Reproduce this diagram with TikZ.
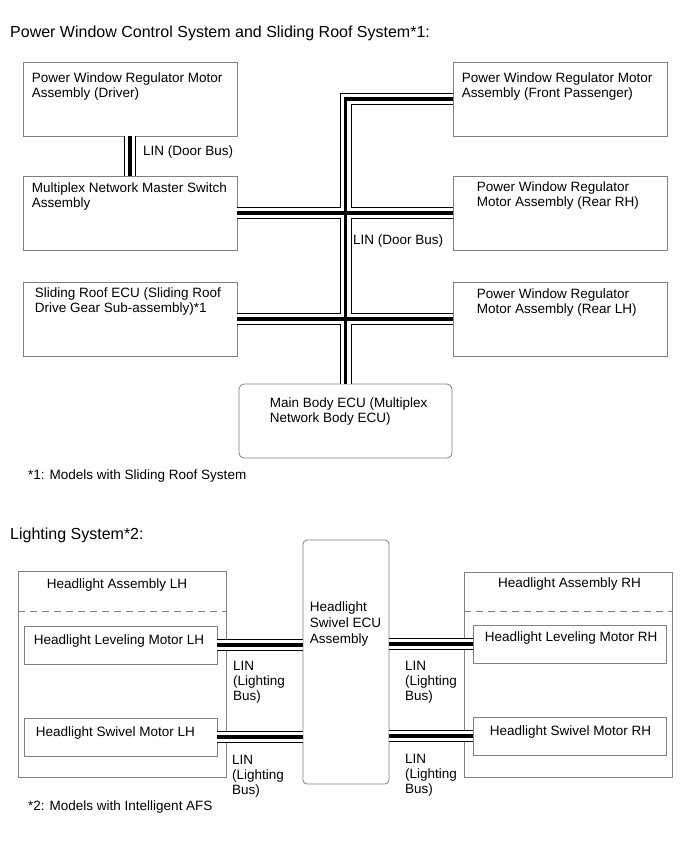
\documentclass[tikz,border=0pt]{standalone}
\usepackage{fontspec}
\setmainfont{Liberation Sans}
\usetikzlibrary{positioning,calc}
\definecolor{boxgray}{RGB}{128,128,128}
\newcommand{\boxfont}{\fontsize{13.5}{15}\selectfont}
\newcommand{\headfont}{\fontsize{16}{18}\selectfont}

\begin{document}
\begin{tikzpicture}[x=1pt, y=-1pt,
    unitbox/.style={rectangle, draw=boxgray, line width=0.8pt, inner sep=0pt,
                    minimum width=214pt, minimum height=74pt},
    ecubox/.style={unitbox, rounded corners=5pt},
    boxtxt/.style={inner sep=0pt, anchor=north west, align=left, font=\boxfont},
    bustxt/.style={inner sep=0pt, align=left, font=\boxfont},
    headtxt/.style={inner sep=0pt, anchor=west, font=\headfont},
    sepline/.style={draw=boxgray, line width=0.8pt, dash pattern=on 7pt off 5pt},
    bus/.style={line width=3.8pt, preaction={draw, black, line width=12pt},
                preaction={draw, white, line width=10pt}}
  ]
    \useasboundingbox (0,0) rectangle (691,854);

    % Power window / sliding roof
    \node[headtxt] (ttl1) at (10,33) {Power Window Control System and Sliding Roof System*1:};

    \node[unitbox] (drv) at (130,99)  {};
    \node[unitbox] (msw) at (130,213) {};
    \node[unitbox] (srf) at (130,319) {};
    \node[unitbox] (fps) at (560,99)  {};
    \node[unitbox] (rrh) at (560,213) {};
    \node[unitbox] (rlh) at (560,319) {};
    \node[ecubox, minimum width=213pt] (mbe) at (345.5,421) {};

    \node[boxtxt] (drvt) at ($(drv.north west)+(9,11)$) {Power Window Regulator Motor\\Assembly (Driver)};
    \node[boxtxt] (mswt) at ($(msw.north west)+(9,7)$) {Multiplex Network Master Switch\\Assembly};
    \node[boxtxt] (srft) at ($(srf.north west)+(12,6)$) {Sliding Roof ECU (Sliding Roof\\Drive Gear Sub-assembly)*1};
    \node[boxtxt] (fpst) at ($(fps.north west)+(9,11)$) {Power Window Regulator Motor\\Assembly (Front Passenger)};
    \node[boxtxt] (rrht) at ($(rrh.north west)+(24,6)$) {Power Window Regulator\\Motor Assembly (Rear RH)};
    \node[boxtxt] (rlht) at ($(rlh.north west)+(24,7)$) {Power Window Regulator\\Motor Assembly (Rear LH)};
    \node[boxtxt] (mbet) at ($(mbe.north west)+(31,14)$) {Main Body ECU (Multiplex\\Network Body ECU)};

    \draw[bus] (drv.south) -- (msw.north);
    \draw[bus] (fps.west) -| (mbe.north) (msw.east) -- (rrh.west) (srf.east) -- (rlh.west);

    \node[bustxt, anchor=west] (dbus1) at (143,152) {LIN (Door Bus)};
    \node[bustxt, anchor=west] (dbus2) at (353,241) {LIN (Door Bus)};
    \node[bustxt, anchor=west] (fn1) at (28,476) {*1: Models with Sliding Roof System};

    % Lighting
    \node[headtxt] (ttl2) at (10,535) {Lighting System*2:};

    \node[unitbox, minimum width=208pt, minimum height=206pt] (lha) at (122,674) {};
    \node[unitbox, minimum width=208pt, minimum height=205pt] (rha) at (568,674.5) {};
    \draw[sepline] ($(lha.north west)+(0,41)$) -- ($(lha.north east)+(0,41)$);
    \draw[sepline] ($(rha.north west)+(0,40)$) -- ($(rha.north east)+(0,40)$);

    \node[unitbox, minimum width=193pt, minimum height=38pt] (lvl) at (120.5,645) {};
    \node[unitbox, minimum width=193pt, minimum height=38pt] (swl) at (120.5,737) {};
    \node[unitbox, minimum width=193pt, minimum height=38pt] (lvr) at (569.5,644) {};
    \node[unitbox, minimum width=193pt, minimum height=38pt] (swr) at (569.5,736) {};
    \node[ecubox, rounded corners=4pt, minimum width=86pt, minimum height=244pt] (ecu) at (346,662) {};

    \node[bustxt] (lhat) at ($(lha.north)+(-5,14)$) {Headlight Assembly LH};
    \node[bustxt] (rhat) at ($(rha.north)+(1.5,12)$) {Headlight Assembly RH};
    \node[boxtxt] (lvlt) at ($(lvl.north west)+(10,9)$) {Headlight Leveling Motor LH};
    \node[boxtxt] (swlt) at ($(swl.north west)+(12,9)$) {Headlight Swivel Motor LH};
    \node[boxtxt] (lvrt) at ($(lvr.north west)+(12,7)$) {Headlight Leveling Motor RH};
    \node[boxtxt] (swrt) at ($(swr.north west)+(17,9)$) {Headlight Swivel Motor RH};
    \node[boxtxt, font=\fontsize{13.5}{16}\selectfont] (ecut) at ($(ecu.north west)+(7,62)$) {Headlight\\Swivel ECU\\Assembly};

    \draw[bus] (lvl.east) -- (lvl.east -| ecu.west) (swl.east) -- (swl.east -| ecu.west)
               (ecu.east |- lvr.west) -- (lvr.west) (ecu.east |- swr.west) -- (swr.west);

    \node[bustxt, anchor=north west] (lbus1) at (233,661) {LIN\\(Lighting\\Bus)};
    \node[bustxt, anchor=north west] (lbus2) at (232,755) {LIN\\(Lighting\\Bus)};
    \node[bustxt, anchor=north west] (rbus1) at (405,661) {LIN\\(Lighting\\Bus)};
    \node[bustxt, anchor=north west] (rbus2) at (405,754) {LIN\\(Lighting\\Bus)};
    \node[bustxt, anchor=west] (fn2) at (28,807) {*2: Models with Intelligent AFS};
  \end{tikzpicture}
\end{document}
